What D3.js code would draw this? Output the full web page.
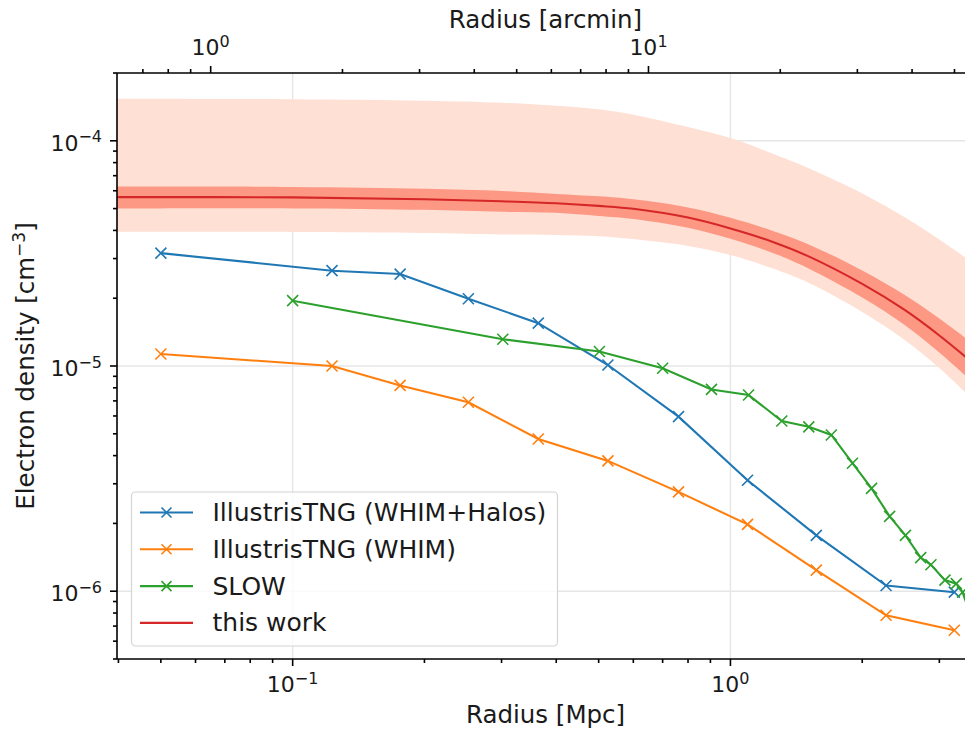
<!DOCTYPE html>
<html>
<head>
<meta charset="utf-8">
<script src="https://cdn.jsdelivr.net/npm/d3@7"></script>
<style>
  body { margin: 0; background: #ffffff; }
  text { font-family: "DejaVu Sans", sans-serif; fill: #1a1a1a; }
</style>
</head>
<body>
<svg id="chart" width="965" height="744"></svg>
<script>
// IllustrisTNG profiles (radius in Mpc, electron density in cm^-3)
const radiusTNG = [0.050, 0.123, 0.176, 0.252, 0.364, 0.525, 0.761, 1.094, 1.571, 2.267, 3.246];
const densityWhimHalos = [3.17e-5, 2.65e-5, 2.56e-5, 1.99e-5, 1.55e-5, 1.01e-5, 5.96e-6, 3.11e-6, 1.77e-6, 1.06e-6, 9.9e-7];
const densityWhim = [1.13e-5, 1.0e-5, 8.2e-6, 6.9e-6, 4.74e-6, 3.79e-6, 2.76e-6, 1.98e-6, 1.24e-6, 7.82e-7, 6.71e-7];

// SLOW constrained simulation profile
const radiusSlow = [0.100, 0.302, 0.502, 0.700, 0.905, 1.10, 1.31, 1.51, 1.70, 1.90, 2.10, 2.31, 2.51, 2.72, 2.87, 3.09, 3.28, 3.39, 3.55];
const densitySlow = [1.95e-5, 1.315e-5, 1.16e-5, 9.77e-6, 7.87e-6, 7.43e-6, 5.70e-6, 5.37e-6, 4.94e-6, 3.70e-6, 2.86e-6, 2.15e-6, 1.77e-6, 1.41e-6, 1.31e-6, 1.12e-6, 1.08e-6, 9.9e-7, 7.6e-7];

// Fitted profile of this work with its two uncertainty envelopes
const radiusModel = [0.039, 0.1, 0.2, 0.3, 0.4, 0.5, 0.6, 0.8, 1.0, 1.25, 1.5, 2.0, 2.5, 3.0, 3.6];
const densityModel = [5.62e-5, 5.61e-5, 5.50e-5, 5.39e-5, 5.28e-5, 5.14e-5, 4.99e-5, 4.56e-5, 4.08e-5, 3.556e-5, 3.083e-5, 2.314e-5, 1.773e-5, 1.366e-5, 1.021e-5];
const innerHigh = [6.26e-5, 6.24e-5, 6.12e-5, 5.99e-5, 5.81e-5, 5.67e-5, 5.50e-5, 5.06e-5, 4.55e-5, 3.981e-5, 3.485e-5, 2.657e-5, 2.068e-5, 1.625e-5, 1.246e-5];
const innerLow = [5.00e-5, 5.01e-5, 4.94e-5, 4.84e-5, 4.79e-5, 4.64e-5, 4.50e-5, 4.11e-5, 3.67e-5, 3.178e-5, 2.726e-5, 2.015e-5, 1.521e-5, 1.148e-5, 8.36e-6];
const outerHigh = [1.537e-4, 1.529e-4, 1.506e-4, 1.475e-4, 1.431e-4, 1.380e-4, 1.305e-4, 1.150e-4, 1.028e-4, 8.75e-5, 7.59e-5, 5.84e-5, 4.575e-5, 3.646e-5, 2.85e-5];
const outerLow = [3.95e-5, 3.94e-5, 3.90e-5, 3.84e-5, 3.82e-5, 3.77e-5, 3.66e-5, 3.41e-5, 3.11e-5, 2.71e-5, 2.355e-5, 1.738e-5, 1.305e-5, 9.80e-6, 6.99e-6];

// Axis ticks (labelled as powers of ten)
const xTickExponents = [-1, 0];
const yTickExponents = [-6, -5, -4];
const arcminTickExponents = [0, 1];
const arcminPerMpc = 15.39;

const seriesNames = ["IllustrisTNG (WHIM+Halos)", "IllustrisTNG (WHIM)", "SLOW", "this work"];
const seriesColors = ["#1f77b4", "#ff7f0e", "#2ca02c", "#d62728"];
const bandColors = ["#fee0d5", "#fc9883"];

const svg = d3.select("#chart");
const plotLeft = 117, plotTop = 73, plotBottom = 659, plotRight = 974;

const x = d3.scaleLog().domain([0.0397, 3.6]).range([plotLeft, plotRight]);
const y = d3.scaleLog().domain([5e-7, 2e-4]).range([plotBottom, plotTop]);
const xArc = d3.scaleLog().domain([0.0397 * arcminPerMpc, 3.6 * arcminPerMpc]).range([plotLeft, plotRight]);

svg.append("defs").append("clipPath").attr("id", "plotClip")
  .append("rect").attr("x", plotLeft).attr("y", plotTop)
  .attr("width", plotRight - plotLeft).attr("height", plotBottom - plotTop);

// grid
const grid = svg.append("g").attr("stroke", "#e6e6e6").attr("stroke-width", 1.4);
xTickExponents.forEach(e => {
  grid.append("line").attr("x1", x(10 ** e)).attr("x2", x(10 ** e)).attr("y1", plotTop).attr("y2", plotBottom);
});
yTickExponents.forEach(e => {
  grid.append("line").attr("x1", plotLeft).attr("x2", plotRight).attr("y1", y(10 ** e)).attr("y2", y(10 ** e));
});

const plot = svg.append("g").attr("clip-path", "url(#plotClip)");

const smooth = d3.curveCatmullRom.alpha(0.5);
const band = (lo, hi) => d3.area()
  .x((d, i) => x(radiusModel[i]))
  .y0((d, i) => y(lo[i]))
  .y1((d, i) => y(hi[i]))
  .curve(smooth)(radiusModel);

plot.append("path").attr("d", band(outerLow, outerHigh)).attr("fill", bandColors[0]);
plot.append("path").attr("d", band(innerLow, innerHigh)).attr("fill", bandColors[1]);

const lineGen = d3.line().x(d => x(d[0])).y(d => y(d[1]));
const modelLine = d3.line().x(d => x(d[0])).y(d => y(d[1])).curve(smooth);

const series = [
  { r: radiusTNG, n: densityWhimHalos, color: seriesColors[0] },
  { r: radiusTNG, n: densityWhim, color: seriesColors[1] },
  { r: radiusSlow, n: densitySlow, color: seriesColors[2] }
];

function cross(g, cx, cy, color, s) {
  g.append("path")
    .attr("d", `M${cx - s},${cy - s}L${cx + s},${cy + s}M${cx - s},${cy + s}L${cx + s},${cy - s}`)
    .attr("stroke", color).attr("stroke-width", 1.6).attr("fill", "none");
}

series.forEach(s => {
  const pts = s.r.map((r, i) => [r, s.n[i]]);
  plot.append("path").attr("d", lineGen(pts)).attr("fill", "none")
    .attr("stroke", s.color).attr("stroke-width", 2.1);
  const mg = plot.append("g");
  pts.forEach(p => cross(mg, x(p[0]), y(p[1]), s.color, 5.5));
});

plot.append("path")
  .attr("d", modelLine(radiusModel.map((r, i) => [r, densityModel[i]])))
  .attr("fill", "none").attr("stroke", seriesColors[3]).attr("stroke-width", 2.1);

// axes
const axes = svg.append("g").attr("stroke", "#000").attr("stroke-width", 1.6);
axes.append("line").attr("x1", plotLeft).attr("x2", plotLeft).attr("y1", plotTop).attr("y2", plotBottom);
axes.append("line").attr("x1", plotLeft).attr("x2", plotRight).attr("y1", plotBottom).attr("y2", plotBottom);
axes.append("line").attr("x1", plotLeft).attr("x2", plotRight).attr("y1", plotTop).attr("y2", plotTop);

function tickValues(scale) {
  const [a, b] = scale.domain();
  const out = [];
  for (let e = Math.floor(Math.log10(a)); e <= Math.ceil(Math.log10(b)); e++) {
    for (let m = 1; m <= 9; m++) {
      const v = m * 10 ** e;
      if (v >= a && v <= b) out.push({ v, major: m === 1 });
    }
  }
  return out;
}

tickValues(x).forEach(t => {
  axes.append("line").attr("x1", x(t.v)).attr("x2", x(t.v))
    .attr("y1", plotBottom).attr("y2", plotBottom + (t.major ? 7 : 4));
});
tickValues(xArc).forEach(t => {
  axes.append("line").attr("x1", xArc(t.v)).attr("x2", xArc(t.v))
    .attr("y1", plotTop).attr("y2", plotTop - (t.major ? 7 : 4));
});
tickValues(y).forEach(t => {
  axes.append("line").attr("x1", plotLeft).attr("x2", plotLeft - (t.major ? 7 : 4))
    .attr("y1", y(t.v)).attr("y2", y(t.v));
});

function powLabel(sel, e) {
  sel.append("tspan").text("10");
  sel.append("tspan").attr("font-size", "16px").attr("dy", -8.5)
    .text(e < 0 ? "\u2212" + (-e) : String(e));
}

const tickFont = "22px";
xTickExponents.forEach(e => {
  const t = svg.append("text").attr("x", x(10 ** e)).attr("y", 692)
    .attr("text-anchor", "middle").attr("font-size", tickFont);
  powLabel(t, e);
});
arcminTickExponents.forEach(e => {
  const t = svg.append("text").attr("x", xArc(10 ** e)).attr("y", 55)
    .attr("text-anchor", "middle").attr("font-size", tickFont);
  powLabel(t, e);
});
yTickExponents.forEach(e => {
  const t = svg.append("text").attr("x", 102).attr("y", y(10 ** e) + 10)
    .attr("text-anchor", "end").attr("font-size", tickFont);
  powLabel(t, e);
});

// axis titles
const mid = (plotLeft + plotRight) / 2;
svg.append("text").attr("x", mid).attr("y", 723).attr("text-anchor", "middle")
  .attr("font-size", "24.5px").text("Radius [Mpc]");
svg.append("text").attr("x", mid).attr("y", 28).attr("text-anchor", "middle")
  .attr("font-size", "24.5px").text("Radius [arcmin]");
const yl = svg.append("text").attr("transform", `translate(34,${(plotTop + plotBottom) / 2}) rotate(-90)`)
  .attr("text-anchor", "middle").attr("font-size", "24.5px");
yl.append("tspan").text("Electron density [cm");
yl.append("tspan").attr("font-size", "17px").attr("dy", -9).text("\u22123");
yl.append("tspan").attr("dy", 9).text("]");

// legend
const lg = svg.append("g");
lg.append("rect").attr("x", 131.5).attr("y", 492).attr("width", 426).attr("height", 154)
  .attr("rx", 4).attr("fill", "#fff").attr("fill-opacity", 0.8)
  .attr("stroke", "#d4d4d4").attr("stroke-width", 1.2);
seriesNames.forEach((name, i) => {
  const cy = 512.5 + i * 36.8;
  lg.append("line").attr("x1", 140).attr("x2", 193).attr("y1", cy).attr("y2", cy)
    .attr("stroke", seriesColors[i]).attr("stroke-width", 2.1);
  if (i < 3) cross(lg, 166.5, cy, seriesColors[i], 5);
  lg.append("text").attr("x", 212.5).attr("y", cy + 8.5).attr("font-size", "25px").text(name);
});
</script>
</body>
</html>
